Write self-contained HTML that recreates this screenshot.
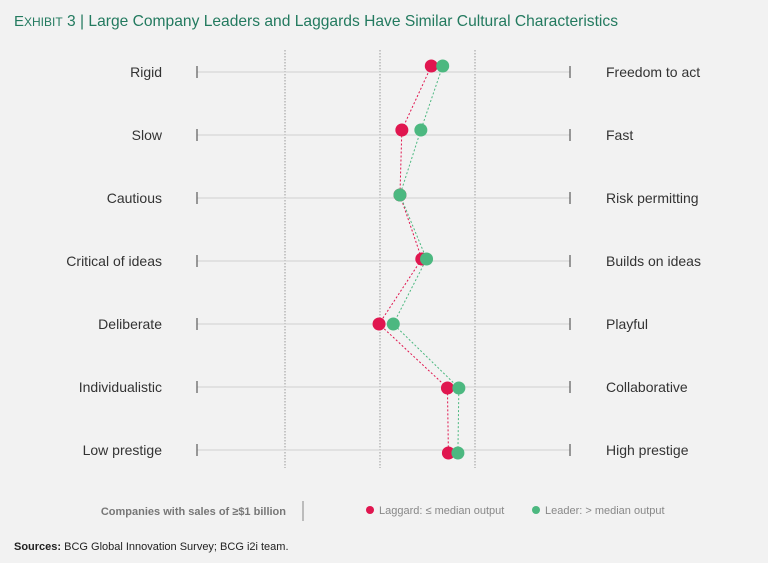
<!DOCTYPE html>
<html><head><meta charset="utf-8"><style>
body{margin:0;background:#f2f2f2;font-family:"Liberation Sans",sans-serif;}
svg{display:block}
</style></head><body>
<svg id="chart" width="768" height="563">
<rect width="768" height="563" fill="#f2f2f2"/>
<text x="14" y="26" fill="#237a5f" font-size="15.6"><tspan font-size="15">E</tspan><tspan font-size="12">XHIBIT</tspan> 3 | Large Company Leaders and Laggards Have Similar Cultural Characteristics</text>
<g id="grid"></g><g id="rows"></g><g id="lines"></g><g id="points"></g>
<text x="286" y="515" text-anchor="end" fill="#777" font-size="11" font-weight="bold">Companies with sales of ≥$1 billion</text>
<line x1="303" y1="501" x2="303" y2="521" stroke="#aaa" stroke-width="1.5"/>
<circle cx="370" cy="510" r="4" fill="#e0164f"/>
<text x="379" y="514" fill="#888" font-size="11">Laggard: ≤ median output</text>
<circle cx="536" cy="510" r="4" fill="#4cb880"/>
<text x="545" y="514" fill="#888" font-size="11">Leader: &gt; median output</text>
<text x="14" y="550" fill="#222" font-size="11"><tspan font-weight="bold">Sources:</tspan> BCG Global Innovation Survey; BCG i2i team.</text>
</svg>
<script>
const leftLabels=["Rigid","Slow","Cautious","Critical of ideas","Deliberate","Individualistic","Low prestige"];
const rightLabels=["Freedom to act","Fast","Risk permitting","Builds on ideas","Playful","Collaborative","High prestige"];
const laggard=[3.54,3.23,3.21,3.44,2.99,3.71,3.72];
const leader=[3.66,3.43,3.21,3.49,3.14,3.83,3.82];
const gridValues=[2,3,4];
const NS="http://www.w3.org/2000/svg";
const x=v=>190+(v-1)*95;
const rowY=i=>72+i*63;
const ptY=[66,130,195,259,324,388,453];
function mk(t,a,p){const e=document.createElementNS(NS,t);for(const k in a)e.setAttribute(k,a[k]);p.appendChild(e);return e;}
const grid=document.getElementById('grid');
gridValues.forEach(v=>{
 const l=mk('line',{x1:x(v),x2:x(v),y1:50,y2:468,stroke:'#999','stroke-dasharray':'1.5 1.5'},grid);
 
 
});
const rows=document.getElementById('rows');
leftLabels.forEach((lab,i)=>{
 const y=rowY(i);
 const h=mk('line',{x1:197,x2:570,y1:y,y2:y,stroke:'#d0d0d0'},rows);
 
 
 [197,570].forEach(tx=>{const t=mk('line',{x1:tx,x2:tx,y1:y-6,y2:y+6,stroke:'#666','stroke-width':1.3},rows);
 
 });
 const a=mk('text',{x:162,y:y+5,'text-anchor':'end','font-size':14,fill:'#333'},rows);a.textContent=lab;
 
 
 const b=mk('text',{x:606,y:y+5,'font-size':14,fill:'#333'},rows);b.textContent=rightLabels[i];
 
 
});
const lines=document.getElementById('lines'),pts=document.getElementById('points');
[[laggard,'#e0164f','laggard'],[leader,'#4cb880','leader']].forEach(([arr,c,n])=>{
 const pl=mk('polyline',{points:arr.map((v,i)=>x(v)+','+ptY[i]).join(' '),fill:'none',stroke:c,'stroke-width':1,'stroke-dasharray':'2 2'},lines);
 
 
});
[[laggard,'#e0164f','laggard'],[leader,'#4cb880','leader']].forEach(([arr,c,n])=>{
 arr.forEach((v,i)=>{const p=mk('circle',{cx:x(v),cy:ptY[i],r:6.5,fill:c},pts);
 
 });
});
</script>
</body></html>
